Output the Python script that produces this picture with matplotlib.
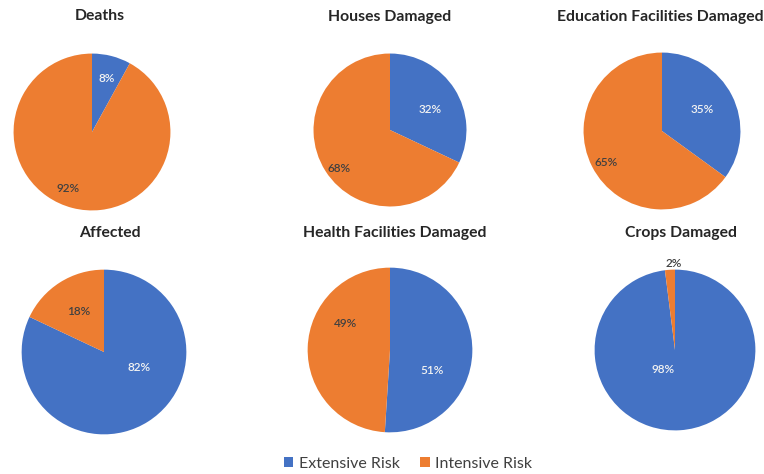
import matplotlib
matplotlib.use("Agg")
import matplotlib.pyplot as plt
from matplotlib.patches import Patch

plt.rcParams['font.family'] = ['Lato', 'DejaVu Sans']

titles = ["Deaths", "Houses Damaged", "Education Facilities Damaged",
          "Affected", "Health Facilities Damaged", "Crops Damaged"]
extensive = [8, 32, 35, 82, 51, 98]
intensive = [92, 68, 65, 18, 49, 2]
series_names = ["Extensive Risk", "Intensive Risk"]

BLUE = "#4472C4"
ORANGE = "#ED7D31"
W, H = 764, 474

# pie centre (px), radius (px), title centre (px)
layout = [
    dict(c=(92, 132), r=80, t=(100, 16)),
    dict(c=(390, 130), r=78, t=(390, 17)),
    dict(c=(662, 131), r=80, t=(660, 17)),
    dict(c=(104, 352), r=84, t=(110, 233)),
    dict(c=(390, 350), r=84, t=(395, 233)),
    dict(c=(675, 350), r=82, t=(681, 233)),
]
# label offsets as fractions of the radius: (extensive, intensive)
label_pos = [
    ((0.19, 0.68), (-0.31, -0.72)),
    ((0.52, 0.27), (-0.66, -0.50)),
    ((0.51, 0.28), (-0.71, -0.40)),
    ((0.43, -0.19), (-0.31, 0.49)),
    ((0.51, -0.25), (-0.54, 0.32)),
    ((-0.15, -0.24), (-0.02, 1.08)),
]

fig = plt.figure(figsize=(W / 100, H / 100), dpi=100)
fig.patch.set_facecolor("white")

for i, title in enumerate(titles):
    cx, cy = layout[i]["c"]
    r = layout[i]["r"]
    ax = fig.add_axes([(cx - r) / W, (H - cy - r) / H, 2 * r / W, 2 * r / H])
    vals = [extensive[i], intensive[i]]
    ax.pie(vals, colors=[BLUE, ORANGE], startangle=90, counterclock=False,
           radius=1, wedgeprops=dict(edgecolor="none", linewidth=0))
    ax.set_xlim(-1.02, 1.02)
    ax.set_ylim(-1.02, 1.02)
    ax.set_aspect("equal")
    ax.axis("off")
    for j, v in enumerate(vals):
        dx, dy = label_pos[i][j]
        col = "#F2F2F2" if j == 0 else "#404040"
        ax.text(dx, dy, f"{v}%", ha="center", va="center", fontsize=8.5,
                color=col, fontweight="semibold", clip_on=False)
    tx, ty = layout[i]["t"]
    fig.text(tx / W, 1 - ty / H, title, ha="center", va="center",
             fontsize=11.3, fontweight="bold", color="#262626")

handles = [Patch(facecolor=BLUE, label=series_names[0]),
           Patch(facecolor=ORANGE, label=series_names[1])]
fig.legend(handles=handles, loc="center", bbox_to_anchor=(408 / W, 1 - 464 / H),
           ncol=2, frameon=False, fontsize=11.5, handlelength=0.6, handleheight=0.6,
           handletextpad=0.35, columnspacing=1.3, labelcolor="#404040")

fig.savefig("out.png", dpi=100, facecolor="white")
